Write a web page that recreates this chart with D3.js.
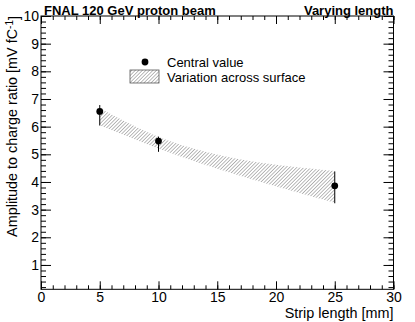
<!DOCTYPE html>
<html>
<head>
<meta charset="utf-8">
<script src="https://cdn.jsdelivr.net/npm/d3@7"></script>
<style>
  body { margin: 0; background: #fff; }
  svg { display: block; font-family: 'Liberation Sans', Arial, sans-serif; }
</style>
</head>
<body>
<svg class="chart"></svg>
<script>
// Strip length [mm] of each measured sensor
var stripLength = [5, 10, 25];
// Central amplitude/charge value and its error bar ends
var centralValue = [6.55, 5.48, 3.86];
var errLow = [6.04, 5.09, 3.23];
var errHigh = [6.78, 5.64, 4.38];
// Spread of the ratio across the sensor surface
var bandLow = [6.05, 5.21, 3.25];
var bandHigh = [6.67, 5.63, 4.40];

var xTicks = [0, 5, 10, 15, 20, 25, 30];
var yTicks = [1, 2, 3, 4, 5, 6, 7, 8, 9, 10];

var W = 415, H = 322;
var margin = {top: 16, right: 21.5, bottom: 32.7, left: 41},
  width = W - margin.left - margin.right,
  height = H - margin.top - margin.bottom;

var x = d3.scaleLinear().domain([0, 30]).range([0, width]);
var y = d3.scaleLinear().domain([0.12, 10]).range([height, 0]);

var svg = d3.select('.chart').attr('width', W).attr('height', H);

// hatch pattern used for the band and the legend box
svg.append('defs').append('pattern')
  .attr('id', 'hatch')
  .attr('patternUnits', 'userSpaceOnUse')
  .attr('width', 2.5).attr('height', 2.5)
  .attr('patternTransform', 'rotate(45)')
  .append('line')
  .attr('x1', 0).attr('y1', 0).attr('x2', 0).attr('y2', 2.5)
  .attr('stroke', '#666').attr('stroke-width', 0.9);

var chart = svg.append('g')
  .attr('transform', 'translate(' + margin.left + ',' + margin.top + ')');

// ticks on all four sides, pointing inward
var xMajor = 8, yMajor = 10;
var xMinorVals = d3.range(0, 31, 1), yMinorVals = d3.range(0.2, 10.01, 0.2);

chart.append('g')
  .attr('transform', 'translate(0,' + height + ')')
  .call(d3.axisBottom(x).tickValues(xMinorVals).tickSize(-xMajor / 2).tickFormat(''));
chart.append('g')
  .attr('transform', 'translate(0,' + height + ')')
  .call(d3.axisBottom(x).tickValues(xTicks).tickSize(-xMajor).tickPadding(3).tickFormat(d3.format('d')))
  .attr('class', 'xlab');
chart.append('g')
  .call(d3.axisTop(x).tickValues(xMinorVals).tickSize(-xMajor / 2).tickFormat(''));
chart.append('g')
  .call(d3.axisTop(x).tickValues(xTicks).tickSize(-xMajor).tickFormat(''));

chart.append('g')
  .call(d3.axisLeft(y).tickValues(yMinorVals).tickSize(-yMajor / 2).tickFormat(''));
chart.append('g')
  .call(d3.axisLeft(y).tickValues(yTicks).tickSize(-yMajor).tickPadding(2).tickFormat(d3.format('d')))
  .attr('class', 'ylab');
chart.append('g')
  .attr('transform', 'translate(' + width + ',0)')
  .call(d3.axisRight(y).tickValues(yMinorVals).tickSize(-yMajor / 2).tickFormat(''));
chart.append('g')
  .attr('transform', 'translate(' + width + ',0)')
  .call(d3.axisRight(y).tickValues(yTicks).tickSize(-yMajor).tickFormat(''));

chart.selectAll('.domain').remove();
chart.selectAll('.tick line').attr('stroke', '#000');
chart.selectAll('.tick text').attr('fill', '#000').style('font-size', '14px');

// frame
chart.append('rect')
  .attr('width', width).attr('height', height)
  .attr('fill', 'none').attr('stroke', '#000').attr('stroke-width', 1);

// band
var pts = stripLength.map(function(d, i) { return {x: d, lo: bandLow[i], hi: bandHigh[i]}; });
chart.append('path')
  .datum(pts)
  .attr('fill', 'url(#hatch)')
  .attr('d', d3.area()
    .curve(d3.curveMonotoneX)
    .x(function(d) { return x(d.x); })
    .y0(function(d) { return y(d.lo); })
    .y1(function(d) { return y(d.hi); }));

// error bars and central values
var pd = stripLength.map(function(d, i) {
  return {x: d, v: centralValue[i], lo: errLow[i], hi: errHigh[i]};
});
var g = chart.selectAll('.pt').data(pd).enter().append('g').attr('class', 'pt');
g.append('line')
  .attr('x1', function(d) { return x(d.x); }).attr('x2', function(d) { return x(d.x); })
  .attr('y1', function(d) { return y(d.lo); }).attr('y2', function(d) { return y(d.hi); })
  .attr('stroke', '#000').attr('stroke-width', 1);
g.append('circle')
  .attr('cx', function(d) { return x(d.x); })
  .attr('cy', function(d) { return y(d.v); })
  .attr('r', 3.4).attr('fill', '#000');

// titles
svg.append('text')
  .attr('x', 44).attr('y', 14.5)
  .style('font-size', '13px').style('font-weight', 'bold')
  .text('FNAL 120 GeV proton beam');
svg.append('text')
  .attr('x', margin.left + width).attr('y', 14.5)
  .attr('text-anchor', 'end')
  .style('font-size', '13px').style('font-weight', 'bold')
  .text('Varying length');

svg.append('text')
  .attr('x', margin.left + width).attr('y', 318)
  .attr('text-anchor', 'end')
  .style('font-size', '14.4px')
  .text('Strip length [mm]');

var yt = svg.append('text')
  .attr('transform', 'translate(17,' + margin.top + ') rotate(-90)')
  .attr('text-anchor', 'end')
  .style('font-size', '14.4px');
yt.append('tspan').text('Amplitude to charge ratio [mV fC');
yt.append('tspan').attr('dy', '-0.45em').style('font-size', '10px').text('-1');
yt.append('tspan').attr('dy', '0.45em').text(']');

// legend
svg.append('circle').attr('cx', 145).attr('cy', 62).attr('r', 3.4).attr('fill', '#000');
svg.append('text').attr('x', 167).attr('y', 66.5).style('font-size', '13px').text('Central value');
svg.append('rect')
  .attr('x', 130).attr('y', 70).attr('width', 29).attr('height', 13)
  .attr('fill', 'url(#hatch)').attr('stroke', '#555').attr('stroke-width', 0.8);
svg.append('text').attr('x', 167).attr('y', 81.5).style('font-size', '13px').text('Variation across surface');
</script>
</body>
</html>
